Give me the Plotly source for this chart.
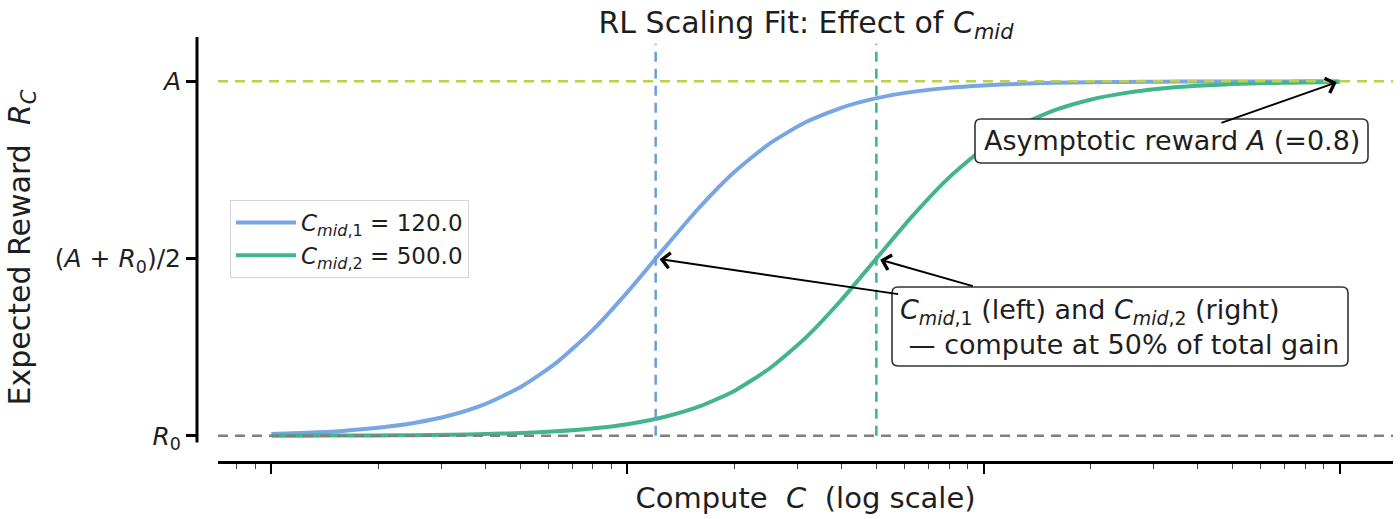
import math
import plotly.graph_objects as go

# ---- data ----
compute = [10, 12.59, 15.85, 19.95, 25.12, 31.62, 39.81, 50.12, 63.10, 79.43,
           100, 125.9, 158.5, 199.5, 251.2, 316.2, 398.1, 501.2, 631.0, 794.3,
           1000, 1259, 1585, 1995, 2512, 3162, 3981, 5012, 6310, 7943, 10000]
reward_cmid1 = [0.0043, 0.0070, 0.0112, 0.0181, 0.0289, 0.0458, 0.0717, 0.1103, 0.1647, 0.2368,
                0.3244, 0.4201, 0.5136, 0.5952, 0.6600, 0.7075, 0.7403, 0.7621, 0.7762, 0.7852,
                0.7908, 0.7943, 0.7965, 0.7978, 0.7987, 0.7992, 0.7995, 0.7997, 0.7998, 0.7999,
                0.7999]
reward_cmid2 = [0.0002, 0.0004, 0.0006, 0.0009, 0.0015, 0.0024, 0.0039, 0.0063, 0.0102, 0.0165,
                0.0263, 0.0419, 0.0657, 0.1014, 0.1525, 0.2211, 0.3060, 0.4010, 0.4957, 0.5804,
                0.6487, 0.6994, 0.7348, 0.7585, 0.7739, 0.7837, 0.7899, 0.7937, 0.7961, 0.7976,
                0.7985]
c_mid = [120.0, 500.0]
A_val = 0.8
R0_val = 0.0
mid_val = (A_val + R0_val) / 2
series_names = ["<i>C</i><sub><i>mid</i>,1</sub> = 120.0",
                "<i>C</i><sub><i>mid</i>,2</sub> = 500.0"]
ytick_vals = [R0_val, mid_val, A_val]
ytick_text = ["<i>R</i><sub>0</sub>", "(<i>A</i> + <i>R</i><sub>0</sub>)/2", "<i>A</i>"]

BLUE = "#78a6e4"
GREEN = "#43b58b"
BLUE_V = "#6a9edb"
GREEN_V = "#3db387"
OLIVE = "#bdd04a"
GRAY = "#808080"
FONT = "DejaVu Sans"
TXT = "#1e1e1e"

W, H = 1400, 519
ML, MR, MT, MB = 197, 7, 37, 57
PW, PH = W - ML - MR, H - MT - MB


def px_x(px):
    return (px - ML) / PW


def px_y(py):
    return (H - MB - py) / PH


def rounded_box(x0, y0, x1, y1, r=6):
    """rounded rectangle path (paper coords) from a pixel box, for annotation frames"""
    X0, X1 = px_x(x0), px_x(x1)
    Y0, Y1 = px_y(y0), px_y(y1)  # Y0 top, Y1 bottom
    rx, ry = r / PW, r / PH
    return (f"M {X0+rx},{Y0} L {X1-rx},{Y0} Q {X1},{Y0} {X1},{Y0-ry} "
            f"L {X1},{Y1+ry} Q {X1},{Y1} {X1-rx},{Y1} L {X0+rx},{Y1} "
            f"Q {X0},{Y1} {X0},{Y1+ry} L {X0},{Y0-ry} Q {X0},{Y0} {X0+rx},{Y0} Z")


fig = go.Figure()
fig.add_trace(go.Scatter(x=compute, y=reward_cmid1, mode="lines", name=series_names[0],
                         line=dict(color=BLUE, width=4, shape="spline", smoothing=0.6)))
fig.add_trace(go.Scatter(x=compute, y=reward_cmid2, mode="lines", name=series_names[1],
                         line=dict(color=GREEN, width=4, shape="spline", smoothing=0.6)))

dash = "10px,7px"
shapes = [
    dict(type="line", xref="x domain", yref="y", x0=0, x1=1, y0=A_val, y1=A_val,
         line=dict(color=OLIVE, width=2.5, dash=dash)),
    dict(type="line", xref="x domain", yref="y", x0=0, x1=1, y0=R0_val, y1=R0_val,
         line=dict(color=GRAY, width=2.5, dash=dash)),
    dict(type="line", xref="x", yref="y", x0=c_mid[0], x1=c_mid[0],
         y0=R0_val, y1=0.885, line=dict(color=BLUE_V, width=2.5, dash=dash)),
    dict(type="line", xref="x", yref="y", x0=c_mid[1], x1=c_mid[1],
         y0=R0_val, y1=0.885, line=dict(color=GREEN_V, width=2.5, dash=dash)),
    # left spine (offset from the plot area)
    dict(type="line", xref="paper", yref="paper", x0=0, x1=0, y0=px_y(442.5), y1=1,
         line=dict(color="black", width=3)),
    # rounded frames of the two text boxes
    dict(type="path", xref="paper", yref="paper", path=rounded_box(975, 119, 1368, 163),
         fillcolor="white", line=dict(color="#333333", width=1.6)),
    dict(type="path", xref="paper", yref="paper", path=rounded_box(892, 287, 1348, 366),
         fillcolor="white", line=dict(color="#333333", width=1.6)),
]

annotations = [
    # second arrow of the C_mid note: starts at the top edge of its box
    dict(x=math.log10(c_mid[1]), y=mid_val, xref="x", yref="y", text="",
         showarrow=True, ax=98, ay=28, arrowhead=4, arrowsize=1.5, arrowwidth=2,
         arrowcolor="black", standoff=4),
    dict(x=math.log10(c_mid[0]), y=mid_val, xref="x", yref="y",
         text="<i>C</i><sub><i>mid</i>,1</sub> (left) and <i>C</i><sub><i>mid</i>,2</sub> (right)<br>"
              "\u00a0\u2014 compute at 50% of total gain",
         align="left", showarrow=True, ax=464, ay=68, arrowhead=4, arrowsize=1.5,
         arrowwidth=2, arrowcolor="black", standoff=4,
         bgcolor="white", borderwidth=0, borderpad=2,
         font=dict(family=FONT, size=27, color=TXT)),
    dict(x=math.log10(compute[-1]), y=A_val, xref="x", yref="y",
         text="Asymptotic reward <i>A</i> (=0.8)",
         showarrow=True, ax=-168, ay=59, arrowhead=4, arrowsize=1.5, arrowwidth=2,
         arrowcolor="black", standoff=3,
         bgcolor="white", borderwidth=0, borderpad=2,
         font=dict(family=FONT, size=27, color=TXT)),
]

fig.update_layout(
    width=W, height=H,
    margin=dict(l=ML, r=MR, t=MT, b=MB),
    paper_bgcolor="white", plot_bgcolor="white",
    font=dict(family=FONT, color=TXT),
    title=dict(text="RL Scaling Fit: Effect of <i>C</i><sub><i>mid</i></sub>",
               x=px_x(806), xref="paper", xanchor="center",
               y=1 - 22 / H, yref="container", yanchor="middle",
               font=dict(family=FONT, size=30, color=TXT)),
    xaxis=dict(type="log", range=[0.85, 4.15], domain=[21 / PW, 1],
               anchor="free", position=0,
               showline=True, linecolor="black", linewidth=3,
               ticks="outside", ticklen=10, tickwidth=2, tickcolor="black",
               tickmode="linear", tick0=0, dtick=1, showticklabels=False,
               minor=dict(ticks="outside", ticklen=5, tickwidth=1, tickcolor="#444444",
                          dtick="D1", showgrid=False),
               showgrid=False, zeroline=False,
               title=dict(text="Compute  <i>C</i>  (log scale)", standoff=14,
                          font=dict(family=FONT, size=29, color=TXT))),
    yaxis=dict(range=[-0.05, 0.9], domain=[4 / PH, 1],
               anchor="free", position=0,
               showline=False,
               ticks="outside", ticklen=11, tickwidth=2.5, tickcolor="black",
               tickmode="array", tickvals=ytick_vals, ticktext=ytick_text,
               tickfont=dict(family=FONT, size=25, color=TXT),
               showgrid=False, zeroline=False,
               title=dict(text="Expected Reward  <i>R</i><sub><i>C</i></sub>", standoff=14,
                          font=dict(family=FONT, size=30, color=TXT))),
    legend=dict(x=px_x(230), y=px_y(200), xanchor="left", yanchor="top",
                bgcolor="white", bordercolor="#d5d5d5", borderwidth=1,
                itemwidth=60,
                font=dict(family=FONT, size=23, color=TXT)),
    shapes=shapes,
    annotations=annotations,
)

fig.write_html("out.html")
